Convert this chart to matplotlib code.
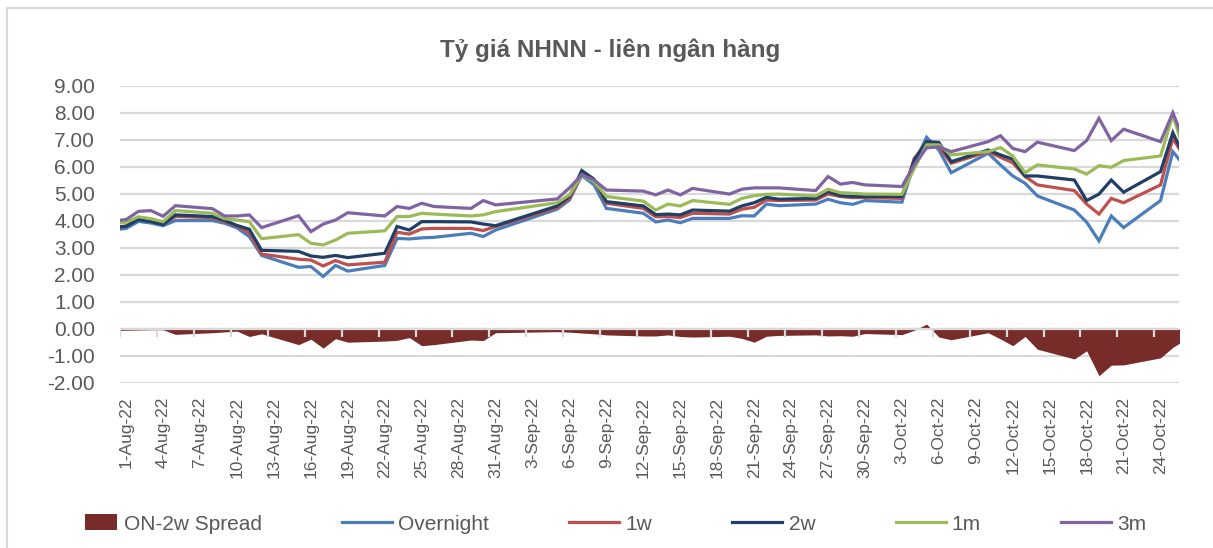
import matplotlib
matplotlib.use('Agg')

import numpy as np
import pandas as pd
import matplotlib.pyplot as plt
import matplotlib.dates as mdates
from matplotlib.patches import Patch, Rectangle
from matplotlib.lines import Line2D
from matplotlib.legend_handler import HandlerPatch

# business days (Sep 1-2 National Day holiday), first / last points clipped by the axis
dates = [
    '2022-07-29',
    '2022-08-01', '2022-08-02', '2022-08-03', '2022-08-04', '2022-08-05',
    '2022-08-08', '2022-08-09', '2022-08-10', '2022-08-11', '2022-08-12',
    '2022-08-15', '2022-08-16', '2022-08-17', '2022-08-18', '2022-08-19',
    '2022-08-22', '2022-08-23', '2022-08-24', '2022-08-25', '2022-08-26',
    '2022-08-29', '2022-08-30', '2022-08-31',
    '2022-09-05', '2022-09-06', '2022-09-07', '2022-09-08', '2022-09-09',
    '2022-09-12', '2022-09-13', '2022-09-14', '2022-09-15', '2022-09-16',
    '2022-09-19', '2022-09-20', '2022-09-21', '2022-09-22', '2022-09-23',
    '2022-09-26', '2022-09-27', '2022-09-28', '2022-09-29', '2022-09-30',
    '2022-10-03', '2022-10-04', '2022-10-05', '2022-10-06', '2022-10-07',
    '2022-10-10', '2022-10-11', '2022-10-12', '2022-10-13', '2022-10-14',
    '2022-10-17', '2022-10-18', '2022-10-19', '2022-10-20', '2022-10-21',
    '2022-10-24', '2022-10-25', '2022-10-26',
]

overnight = [3.55,
             3.72, 3.98, 3.92, 3.82, 4.01,
             4.01, 3.91, 3.74, 3.42, 2.72,
             2.28, 2.31, 1.94, 2.35, 2.14,
             2.35, 3.35, 3.33, 3.37, 3.39,
             3.54, 3.42, 3.66,
             4.43, 4.77, 5.68, 5.33, 4.46,
             4.28, 3.96, 4.03, 3.93, 4.09,
             4.09, 4.19, 4.18, 4.62, 4.56,
             4.62, 4.80, 4.67, 4.61, 4.75,
             4.69, 6.13, 7.09, 6.62, 5.78,
             6.50, 6.07, 5.66, 5.39, 4.92,
             4.40, 3.95, 3.26, 4.18, 3.75,
             4.75, 6.56, 6.00]

w1 = [3.62,
      3.81, 4.06, 3.97, 3.87, 4.16,
      4.12, 3.97, 3.81, 3.56, 2.77,
      2.58, 2.55, 2.33, 2.53, 2.37,
      2.47, 3.58, 3.51, 3.70, 3.72,
      3.72, 3.64, 3.79,
      4.49, 4.83, 5.73, 5.51, 4.65,
      4.46, 4.15, 4.16, 4.12, 4.28,
      4.25, 4.43, 4.50, 4.77, 4.75,
      4.77, 4.99, 4.90, 4.86, 4.86,
      4.83, 6.31, 6.89, 6.74, 6.13,
      6.56, 6.35, 6.15, 5.64, 5.33,
      5.12, 4.62, 4.25, 4.83, 4.67,
      5.33, 7.05, 6.32]

w2 = [3.65,
      3.80, 4.05, 3.97, 3.86, 4.22,
      4.16, 4.01, 3.83, 3.69, 2.91,
      2.87, 2.70, 2.65, 2.72, 2.64,
      2.80, 3.79, 3.66, 3.97, 3.97,
      3.96, 3.88, 3.82,
      4.55, 4.90, 5.86, 5.54, 4.71,
      4.55, 4.23, 4.25, 4.22, 4.40,
      4.36, 4.55, 4.67, 4.87, 4.80,
      4.83, 5.08, 4.93, 4.90, 4.90,
      4.90, 6.25, 6.93, 6.90, 6.19,
      6.62, 6.44, 6.28, 5.66, 5.66,
      5.51, 4.75, 4.99, 5.51, 5.06,
      5.82, 7.26, 6.31]

m1 = [3.78,
      3.95, 4.15, 4.08, 3.97, 4.38,
      4.28, 4.08, 4.03, 3.97, 3.34,
      3.49, 3.17, 3.11, 3.29, 3.54,
      3.63, 4.16, 4.16, 4.28, 4.25,
      4.18, 4.22, 4.34,
      4.67, 4.96, 5.70, 5.45, 4.90,
      4.73, 4.40, 4.62, 4.55, 4.75,
      4.61, 4.83, 4.93, 4.98, 4.99,
      4.92, 5.17, 5.04, 5.02, 4.99,
      4.98, 5.94, 6.81, 6.81, 6.44,
      6.56, 6.71, 6.40, 5.78, 6.07,
      5.92, 5.73, 6.04, 5.98, 6.23,
      6.40, 7.92, 6.45]

m3 = [3.88,
      4.05, 4.35, 4.38, 4.17, 4.56,
      4.45, 4.18, 4.18, 4.22, 3.75,
      4.19, 3.60, 3.88, 4.03, 4.30,
      4.18, 4.53, 4.46, 4.65, 4.53,
      4.46, 4.75, 4.59,
      4.81, 5.22, 5.70, 5.51, 5.14,
      5.10, 4.96, 5.14, 4.96, 5.20,
      4.99, 5.17, 5.22, 5.22, 5.22,
      5.12, 5.64, 5.36, 5.42, 5.33,
      5.27, 6.07, 6.70, 6.74, 6.56,
      6.93, 7.15, 6.68, 6.56, 6.91,
      6.60, 6.97, 7.79, 6.97, 7.39,
      6.93, 8.00, 6.84]

spread = [-0.08,
          -0.05, -0.04, -0.03, -0.03, -0.20,
          -0.14, -0.11, -0.08, -0.28, -0.18,
          -0.58, -0.38, -0.71, -0.36, -0.49,
          -0.45, -0.42, -0.32, -0.62, -0.58,
          -0.41, -0.43, -0.14,
          -0.10, -0.12, -0.15, -0.18, -0.22,
          -0.26, -0.26, -0.22, -0.28, -0.30,
          -0.27, -0.35, -0.49, -0.27, -0.24,
          -0.22, -0.26, -0.25, -0.27, -0.17,
          -0.21, -0.05, 0.18, -0.30, -0.40,
          -0.14, -0.37, -0.62, -0.28, -0.75,
          -1.11, -0.81, -1.73, -1.34, -1.33,
          -1.07, -0.68, -0.40]

series_names = ['Overnight', '1w', '2w', '1m', '3m']
series_colors = ['#4A7EBB', '#C0504D', '#1F3F66', '#9BBB59', '#8064A2']
spread_name = 'ON-2w Spread'
spread_color = '#772C2A'

title = 'Tỷ giá NHNN - liên ngân hàng'
grey = '#595959'
grid = '#D9D9D9'
font = ['Liberation Sans', 'DejaVu Sans']
plt.rcParams['font.family'] = font

x = mdates.date2num(pd.to_datetime(dates))
first = mdates.date2num(pd.Timestamp('2022-08-01'))
last = mdates.date2num(pd.Timestamp('2022-10-25'))

W, H = 1213, 548
fig = plt.figure(figsize=(W / 100, H / 100), dpi=100)
ax = fig.add_axes([120 / W, 1 - 383 / H, (1179 - 120) / W, (383 - 85.7) / H])

ax.fill_between(x, spread, 0, color=spread_color, lw=0, zorder=2)
for vals, c in zip([overnight, w1, w2, m1, m3], series_colors):
    ax.plot(x, vals, color=c, lw=2.3, zorder=3, solid_joinstyle='miter')

ax.set_xlim(first - 0.5, last + 0.5)
ax.set_ylim(-2, 9)
ax.set_yticks(np.arange(-2, 10, 1))
ax.set_yticklabels(['%.2f' % v for v in np.arange(-2, 10, 1)], fontsize=15)
ax.yaxis.grid(True, color=grid, lw=1.6)
ax.set_axisbelow(True)
for s in ax.spines.values():
    s.set_visible(False)

# horizontal axis line at 0 with tick marks between days
ax.axhline(0, color=grid, lw=1.6, zorder=2.5)
tick_days = first + np.arange(0, 85, 3) - 0.5
ax.vlines(tick_days, -0.3, 0, color=grid, lw=1.6, zorder=2.5)

label_days = pd.date_range('2022-08-01', '2022-10-24', freq='3D')
ax.set_xticks(mdates.date2num(label_days))
ax.set_xticklabels([f"{d.day}-{d.strftime('%b-%y')}" for d in label_days],
                   rotation=90, fontsize=12.5)
ax.tick_params(axis='x', length=0, pad=10, labelcolor=grey)
ax.tick_params(axis='y', length=0, pad=18, labelcolor=grey)

fig.text(610 / W, 1 - 50 / H, title, ha='center', va='center',
         fontweight='bold', fontsize=17.5, color=grey)

# chart frame (visible top and left edges)
fig.add_artist(Line2D([7 / W, 7 / W], [0, 1 - 8 / H], transform=fig.transFigure,
                      color=grid, lw=1.5))
fig.add_artist(Line2D([7 / W, 1], [1 - 8 / H, 1 - 8 / H], transform=fig.transFigure,
                      color=grid, lw=1.5))


# smaller square swatch for the area series, sitting next to its text
def small_box(legend, orig_handle, xdescent, ydescent, width, height, fontsize):
    return Rectangle((-xdescent + width * 0.36, -ydescent - height * 0.05),
                     width * 0.64, height * 1.1)


handles = [Patch(facecolor=spread_color, edgecolor='none')]
handles += [Line2D([], [], color=c, lw=2.3) for c in series_colors]
fig.legend(handles, [spread_name] + series_names, ncol=6, loc='center',
           bbox_to_anchor=(607 / W, 1 - 524 / H), frameon=False,
           prop={'size': 15}, labelcolor=grey,
           handlelength=2.4, handleheight=0.7, handletextpad=0.3,
           columnspacing=3.85, borderaxespad=0,
           handler_map={Patch: HandlerPatch(patch_func=small_box)})

fig.savefig('out.png', dpi=100)
